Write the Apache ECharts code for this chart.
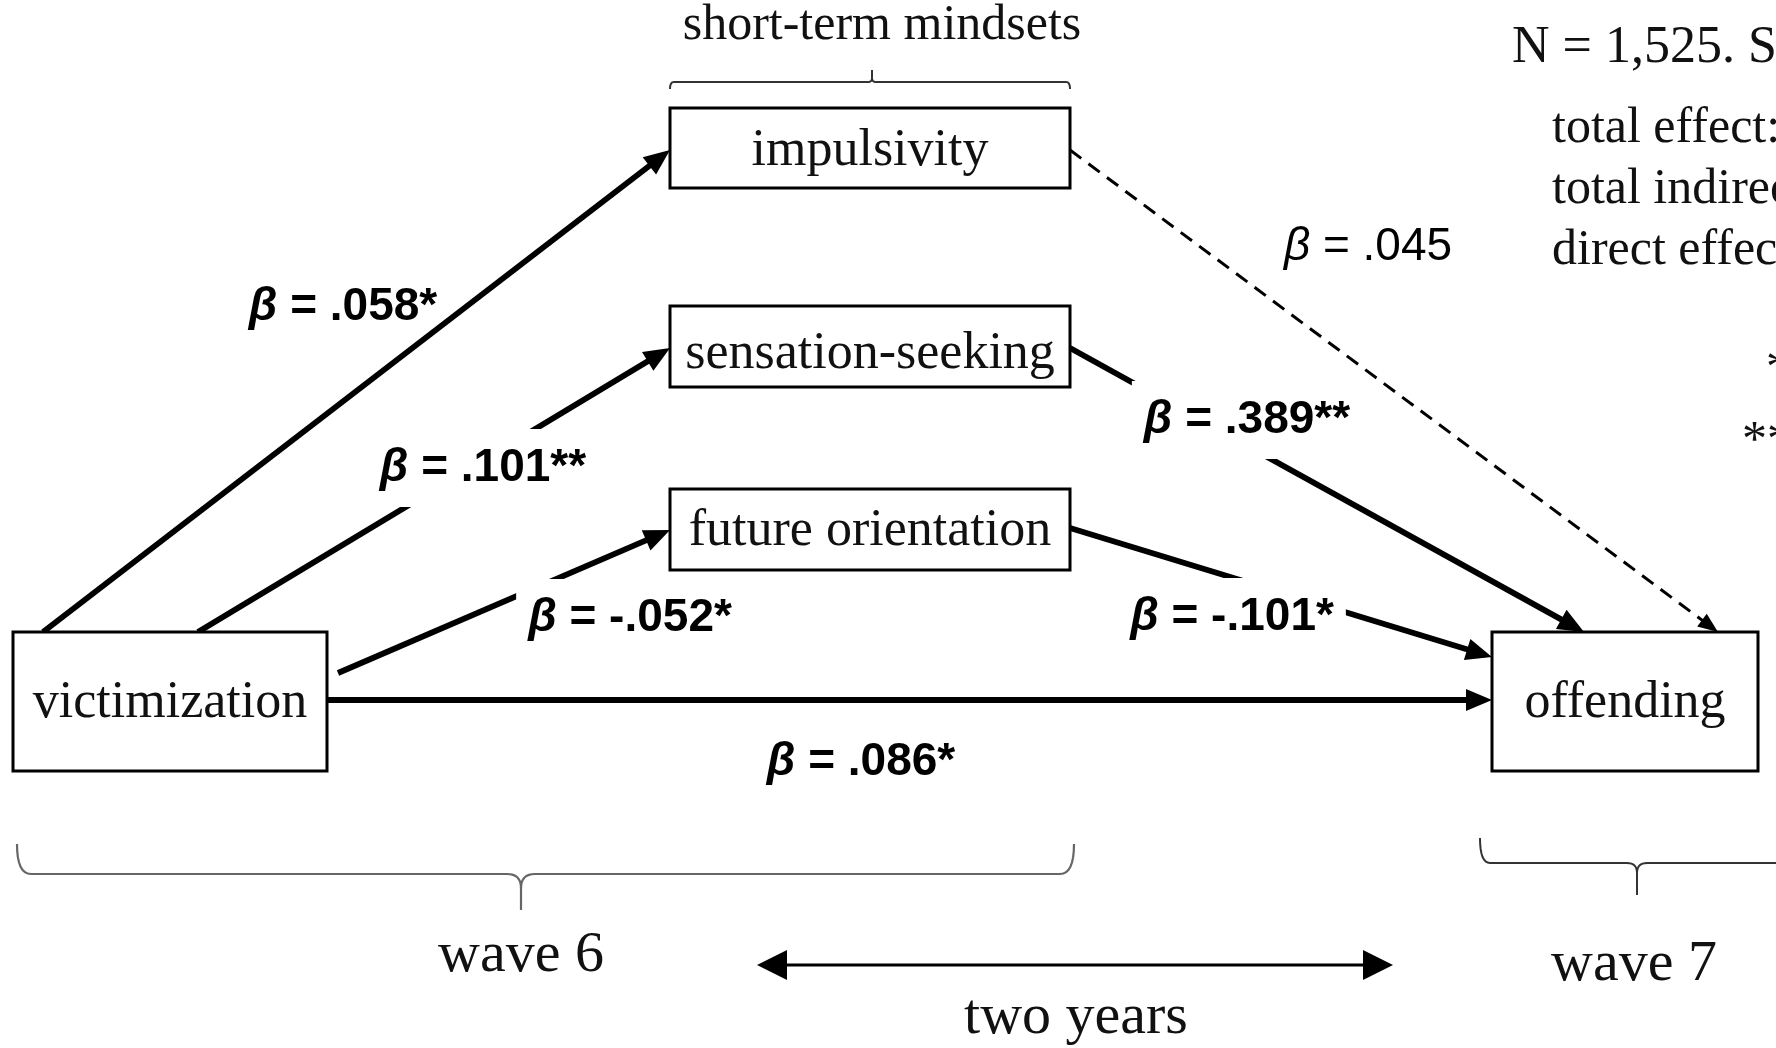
<!DOCTYPE html>
<html>
<head>
<meta charset="utf-8">
<script src="https://cdn.jsdelivr.net/npm/echarts@6/dist/echarts.min.js"></script>
<style>
  html, body { margin: 0; padding: 0; background: #fff; }
  #main { width: 1776px; height: 1048px; }
</style>
</head>
<body>
<div id="main"></div>
<script>
// values
var nodeNames = ['victimization', 'impulsivity', 'sensation-seeking', 'future orientation', 'offending'];
var pathFrom = [0, 0, 0, 0, 1, 2, 3];
var pathTo = [1, 2, 3, 4, 4, 4, 4];
var betaValues = ['.058', '.101', '-.052', '.086', '.045', '.389', '-.101'];
var sigStars = ['*', '**', '*', '*', '', '**', '*'];
var groupLabel = 'short-term mindsets';
var waveLabels = ['wave 6', 'wave 7'];
var spanLabel = 'two years';
var noteLines = ['N = 1,525. Standardized coefficients.', 'total effect:', 'total indirect effect:', 'direct effect:'];
var starNotes = ['* p < .05', '** p < .01'];

// layout (diagram units = pixels of the frame)
var boxLayout = [
    { x: 13, y: 632, w: 314, h: 139, dy: 2 },
    { x: 670, y: 108, w: 400, h: 80, dy: 3 },
    { x: 670, y: 306, w: 400, h: 81, dy: 8 },
    { x: 670, y: 489, w: 400, h: 81, dy: 2 },
    { x: 1492, y: 632, w: 266, h: 139, dy: 2 }
];
// mask: label sits on a white patch that breaks its own line
var pathLayout = [
    { start: [43, 632], end: [670, 150], label: [343, 307], mask: false },
    { start: [198, 632], end: [670, 348], label: [483, 468], mask: true },
    { start: [338, 673], end: [670, 530], label: [630, 618], mask: true },
    { start: [327, 700], end: [1492, 700], label: [861, 762], mask: false },
    { start: [1070, 150], end: [1718, 632], label: [1368, 247], mask: false },
    { start: [1070, 348], end: [1584, 632], label: [1247, 420], mask: true },
    { start: [1070, 528], end: [1492, 657], label: [1232, 617], mask: true }
];

var serif = '"Liberation Serif", "Times New Roman", serif';
var sans = '"Liberation Sans", Arial, sans-serif';

var myChart = echarts.init(document.getElementById('main'), null, { renderer: 'canvas' });

function arrowPoints(tip, ux, uy, len, hw) {
    var bx = tip[0] - ux * len, by = tip[1] - uy * len;
    return [[tip[0], tip[1]], [bx - uy * hw, by + ux * hw], [bx + uy * hw, by - ux * hw]];
}

// quadratic curve sampled into points
function quad(p0, c, p1, pts) {
    for (var k = 1; k <= 8; k++) {
        var t = k / 8, m = 1 - t;
        pts.push([m * m * p0[0] + 2 * m * t * c[0] + t * t * p1[0], m * m * p0[1] + 2 * m * t * c[1] + t * t * p1[1]]);
    }
}

// two halves of a curly bracket, each a polyline
function braceHalves(x0, x1, xm, yEnd, yBar, yTip, r) {
    var s = yTip > yBar ? 1 : -1;
    var left = [[x0, yEnd]];
    quad([x0, yEnd], [x0, yBar], [x0 + r, yBar], left);
    left.push([xm - r, yBar]);
    quad([xm - r, yBar], [xm, yBar], [xm, yBar + s * r], left);
    left.push([xm, yTip]);
    var right = [[xm, yBar + s * r]];
    quad([xm, yBar + s * r], [xm, yBar], [xm + r, yBar], right);
    right.push([x1 - r, yBar]);
    quad([x1 - r, yBar], [x1, yBar], [x1, yEnd], right);
    return [left, right];
}

function braceGraphics(x0, x1, xm, yEnd, yBar, yTip, r, color, width) {
    return braceHalves(x0, x1, xm, yEnd, yBar, yTip, r).map(function (pts) {
        return { type: 'polyline', shape: { points: pts }, style: { stroke: color, lineWidth: width, fill: null } };
    });
}

var annotations = []
    .concat(braceGraphics(670, 1070, 872, 89, 82, 70, 4, '#333', 2))
    .concat(braceGraphics(17, 1074, 521, 844, 874, 910, 14, '#666', 2.2))
    .concat(braceGraphics(1480, 1794, 1637, 838, 863, 895, 10, '#333', 2))
    .concat([
        { type: 'text', x: 882, y: 26, style: { text: groupLabel, font: '50px ' + serif, fill: '#111', align: 'center', verticalAlign: 'middle' } },
        { type: 'text', x: 521, y: 956, style: { text: waveLabels[0], font: '58px ' + serif, fill: '#111', align: 'center', verticalAlign: 'middle' } },
        { type: 'text', x: 1634, y: 965, style: { text: waveLabels[1], font: '58px ' + serif, fill: '#111', align: 'center', verticalAlign: 'middle' } },
        // two years double arrow
        { type: 'line', shape: { x1: 780, y1: 965, x2: 1370, y2: 965 }, style: { stroke: '#000', lineWidth: 3 } },
        { type: 'polygon', shape: { points: arrowPoints([757, 965], -1, 0, 30, 15) }, style: { fill: '#000' } },
        { type: 'polygon', shape: { points: arrowPoints([1393, 965], 1, 0, 30, 15) }, style: { fill: '#000' } },
        { type: 'text', x: 1076, y: 1018, style: { text: spanLabel, font: '58px ' + serif, fill: '#111', align: 'center', verticalAlign: 'middle' } },
        // notes (run off the right edge)
        { type: 'text', x: 1512, y: 48, style: { text: noteLines[0], font: '52px ' + serif, fill: '#111', align: 'left', verticalAlign: 'middle' } },
        { type: 'text', x: 1552, y: 129, style: { text: noteLines[1], font: '50px ' + serif, fill: '#111', align: 'left', verticalAlign: 'middle' } },
        { type: 'text', x: 1552, y: 190, style: { text: noteLines[2], font: '50px ' + serif, fill: '#111', align: 'left', verticalAlign: 'middle' } },
        { type: 'text', x: 1552, y: 251, style: { text: noteLines[3], font: '50px ' + serif, fill: '#111', align: 'left', verticalAlign: 'middle' } },
        { type: 'text', x: 1766, y: 370, style: { text: starNotes[0], font: '50px ' + serif, fill: '#111', align: 'left', verticalAlign: 'middle' } },
        { type: 'text', x: 1742, y: 442, style: { text: starNotes[1], font: '50px ' + serif, fill: '#111', align: 'left', verticalAlign: 'middle' } }
    ]);

var option = {
    animation: false,
    backgroundColor: '#fff',
    grid: { left: 0, right: 0, top: 0, bottom: 0 },
    xAxis: { type: 'value', min: 0, max: 1776, show: false },
    yAxis: { type: 'value', min: 0, max: 1048, inverse: true, show: false },
    series: [
        {
            // paths
            type: 'custom',
            coordinateSystem: 'cartesian2d',
            z: 2,
            clip: false,
            data: pathFrom.map(function (f, i) { return [i, f, pathTo[i]]; }),
            renderItem: function (params, api) {
                var i = api.value(0);
                var L = pathLayout[i];
                var a = api.coord(L.start), b = api.coord(L.end);
                var dx = b[0] - a[0], dy = b[1] - a[1];
                var d = Math.sqrt(dx * dx + dy * dy);
                var ux = dx / d, uy = dy / d;
                var dashed = sigStars[i] === '';
                var len = dashed ? 20 : 26, hw = dashed ? 8 : 11;
                return {
                    type: 'group',
                    children: [
                        {
                            type: 'line',
                            shape: { x1: a[0], y1: a[1], x2: b[0] - ux * (len - 3), y2: b[1] - uy * (len - 3) },
                            style: { stroke: '#000', lineWidth: dashed ? 3 : 5.8, lineDash: dashed ? [14, 9] : null, lineCap: 'butt' }
                        },
                        {
                            type: 'polygon',
                            shape: { points: arrowPoints(b, ux, uy, len, hw) },
                            style: { fill: '#000' }
                        }
                    ]
                };
            }
        },
        {
            // path labels
            type: 'custom',
            coordinateSystem: 'cartesian2d',
            z: 3,
            clip: false,
            data: betaValues.map(function (v, i) { return [i]; }),
            renderItem: function (params, api) {
                var i = api.value(0);
                var L = pathLayout[i];
                var p = api.coord(L.label);
                var weight = sigStars[i] === '' ? 'normal' : 'bold';
                return {
                    type: 'text',
                    x: p[0],
                    y: p[1],
                    style: {
                        text: '{g|β}{t| = ' + betaValues[i] + sigStars[i] + '}',
                        rich: {
                            g: { fontStyle: 'italic', fontWeight: weight, fontSize: 46, fontFamily: sans, fill: '#000' },
                            t: { fontWeight: weight, fontSize: 46, fontFamily: sans, fill: '#000' }
                        },
                        align: 'center',
                        verticalAlign: 'middle',
                        backgroundColor: L.mask ? '#fff' : null,
                        padding: L.mask ? [16, 12] : 0
                    }
                };
            }
        },
        {
            // boxes
            type: 'custom',
            coordinateSystem: 'cartesian2d',
            z: 4,
            clip: false,
            data: nodeNames.map(function (n, i) { return [i]; }),
            renderItem: function (params, api) {
                var i = api.value(0);
                var b = boxLayout[i];
                var p0 = api.coord([b.x, b.y]);
                var p1 = api.coord([b.x + b.w, b.y + b.h]);
                return {
                    type: 'group',
                    children: [
                        {
                            type: 'rect',
                            shape: { x: p0[0], y: p0[1], width: p1[0] - p0[0], height: p1[1] - p0[1] },
                            style: { fill: '#fff', stroke: '#000', lineWidth: 3 }
                        },
                        {
                            type: 'text',
                            x: (p0[0] + p1[0]) / 2,
                            y: (p0[1] + p1[1]) / 2 + b.dy,
                            style: {
                                text: nodeNames[i],
                                font: '52px ' + serif,
                                fill: '#111',
                                align: 'center',
                                verticalAlign: 'middle'
                            }
                        }
                    ]
                };
            }
        }
    ],
    graphic: annotations
};

myChart.setOption(option);
</script>
</body>
</html>
